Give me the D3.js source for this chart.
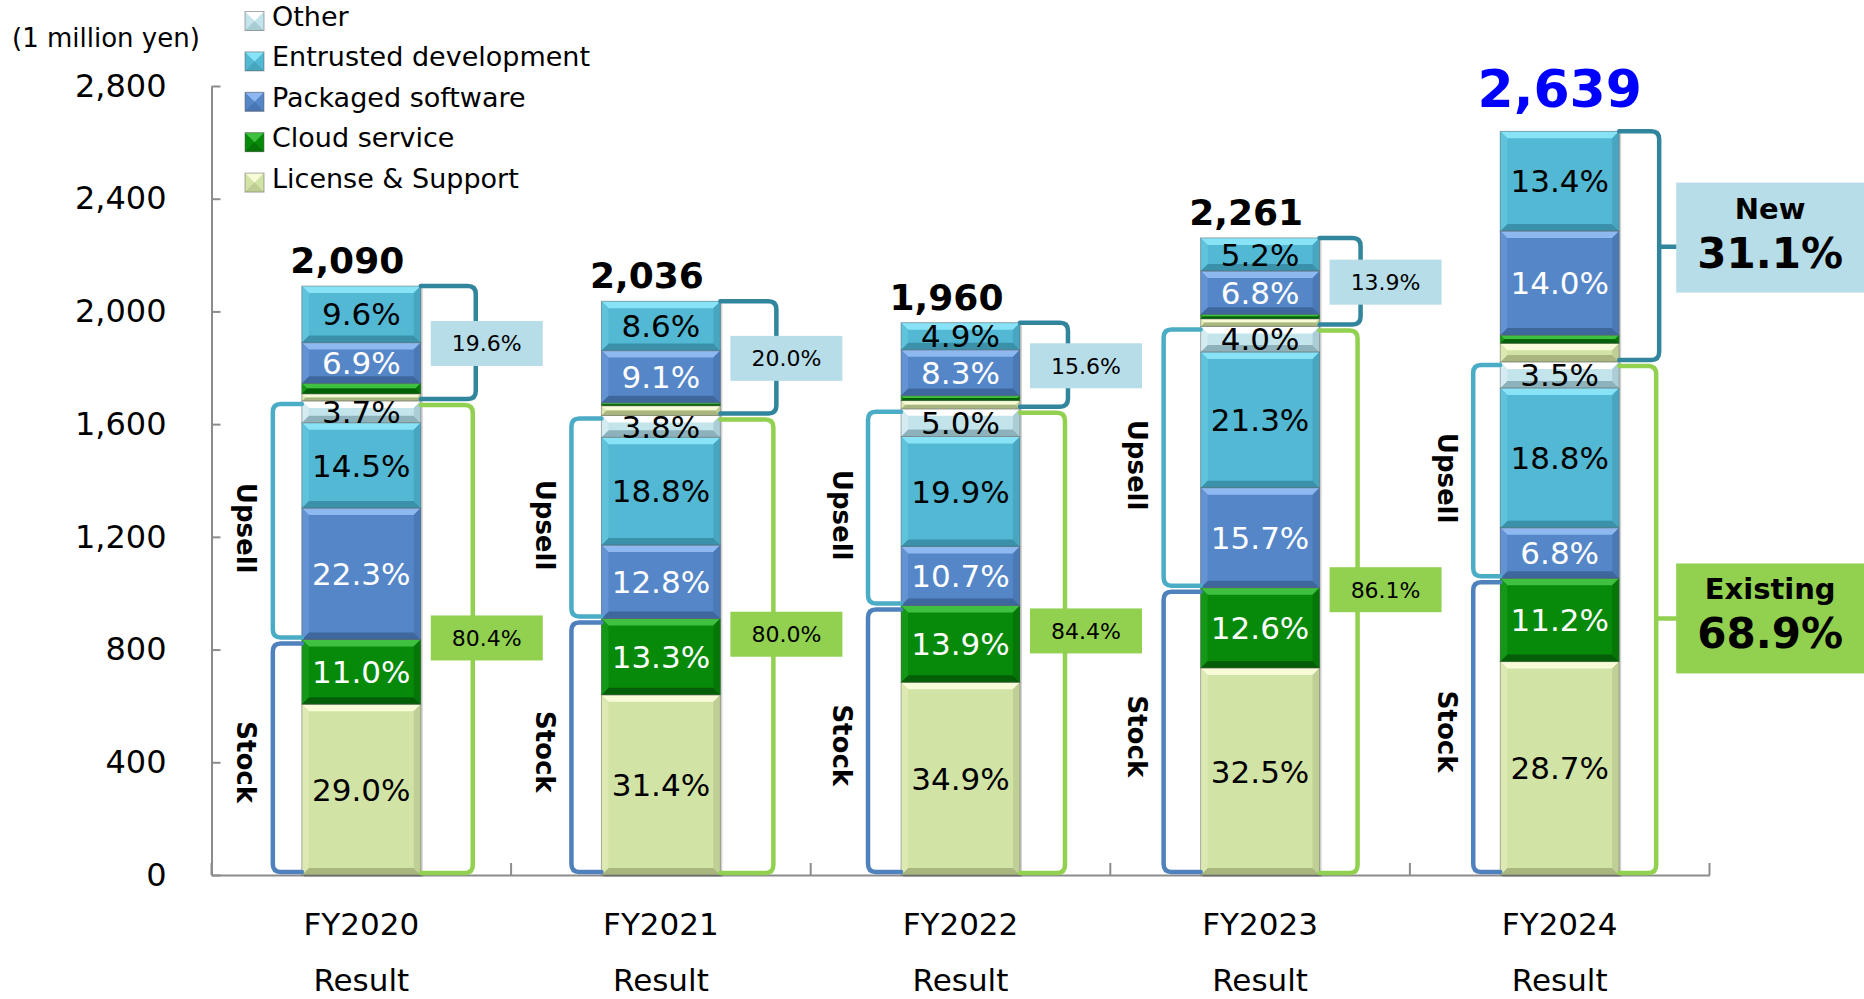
<!DOCTYPE html>
<html><head><meta charset="utf-8">
<script src="https://cdn.jsdelivr.net/npm/d3@7"></script>
<style>
html,body{margin:0;padding:0;background:#fff;}
svg{display:block;font-family:"DejaVu Sans",Verdana,sans-serif;}
</style></head><body>
<svg id="chart" width="1864" height="999"></svg>
<script>
// ---------------- data ----------------
const years = ["FY2020","FY2021","FY2022","FY2023","FY2024"];
const subLabel = "Result";
const totals = [2090, 2036, 1960, 2261, 2639];
// share of total (%) of each stacked segment, bottom to top
const stockLicense    = [29.0, 31.4, 34.9, 32.5, 28.7];
const stockCloud      = [11.0, 13.3, 13.9, 12.6, 11.2];
const upsellPackaged  = [22.3, 12.8, 10.7, 15.7, 6.8];
const upsellEntrusted = [14.5, 18.8, 19.9, 21.3, 18.8];
const upsellOther     = [3.7, 3.8, 5.0, 4.0, 3.5];
const newLicense      = [1.2, 1.7, 1.5, 1.2, 2.5];
const newCloud        = [1.8, 0.5, 0.9, 0.7, 1.1];
const newPackaged     = [6.9, 9.1, 8.3, 6.8, 14.0];
const newEntrusted    = [9.6, 8.6, 4.9, 5.2, 13.4];
const newShare        = ["19.6%","20.0%","15.6%","13.9%","31.1%"];
const existingShare   = ["80.4%","80.0%","84.4%","86.1%","68.9%"];
const yTicks = [0,400,800,1200,1600,2000,2400,2800];
const legendItems = ["Other","Entrusted development","Packaged software","Cloud service","License & Support"];
const legendTypes = ["other","entrusted","packaged","cloud","license"];
const unitLabel = "(1 million yen)";
const groupLabels = {stock:"Stock", upsell:"Upsell", newT:"New", existing:"Existing"};
const highlightIndex = 4;

// ---------------- styles / layout ----------------
const palette = {
  license:   {base:"#d2e3a6", hi:"#f8fbd8", lo:"#a9b680", text:"#000"},
  cloud:     {base:"#078a0a", hi:"#40c040", lo:"#045e07", text:"#fff"},
  packaged:  {base:"#5587c8", hi:"#8db8f0", lo:"#3e679e", text:"#fff"},
  entrusted: {base:"#52b8d3", hi:"#88e3f7", lo:"#3b91a9", text:"#000"},
  other:     {base:"#c4e4ec", hi:"#ffffff", lo:"#8db2bc", text:"#000"}
};
const segments = [
  {key:"stockLicense",    vals:stockLicense,    type:"license",   label:true},
  {key:"stockCloud",      vals:stockCloud,      type:"cloud",     label:true},
  {key:"upsellPackaged",  vals:upsellPackaged,  type:"packaged",  label:true},
  {key:"upsellEntrusted", vals:upsellEntrusted, type:"entrusted", label:true},
  {key:"upsellOther",     vals:upsellOther,     type:"other",     label:true},
  {key:"newLicense",      vals:newLicense,      type:"license",   label:false},
  {key:"newCloud",        vals:newCloud,        type:"cloud",     label:false},
  {key:"newPackaged",     vals:newPackaged,     type:"packaged",  label:true},
  {key:"newEntrusted",    vals:newEntrusted,    type:"entrusted", label:true}
];
const bracketColors = {stock:"#4f81bd", upsell:"#4bacc6", newT:"#31859c", existing:"#92d050"};
const boxColors = {newT:"#b7dde8", existing:"#92d050"};
const leftGap  = [29,30,33,37,27];
const rightGap = [55,56,48,41,40];
const exBoxShift = [0,-11,-11,-11,0];

const svg = d3.select("#chart");
const x = d3.scaleBand().domain(years).range([211.5,1709.5]).paddingInner(0).paddingOuter(0);
const y = d3.scaleLinear().domain([0,2800]).range([875,86]);
const barW = x.bandwidth()*0.397;
const barX = d => x(d) + (x.bandwidth()-barW)/2;

const rows = years.map((yr,i)=>{
  const r = {year:yr, i:i, total:totals[i]};
  segments.forEach(s=>{ r[s.key] = s.vals[i]*totals[i]/100; });
  return r;
});
const series = d3.stack().keys(segments.map(s=>s.key))(rows);

// ---------------- axes ----------------
const gy = svg.append("g").attr("transform",`translate(${x.range()[0]},0)`)
  .call(d3.axisLeft(y).tickValues(yTicks).tickFormat(d3.format(",")).tickSize(-9).tickSizeOuter(0).tickPadding(45));
gy.select(".domain").attr("stroke","#8c8c8c").attr("stroke-width",2);
gy.selectAll(".tick line").attr("stroke","#8c8c8c").attr("stroke-width",2);
gy.selectAll(".tick text").attr("font-size",32).attr("fill","#000").attr("font-family","DejaVu Sans");

const gx = svg.append("g").attr("transform",`translate(0,${y(0)})`)
  .call(d3.axisBottom(x).tickSize(0).tickSizeOuter(0).tickPadding(0));
gx.select(".domain").attr("stroke","#8c8c8c").attr("stroke-width",2);
gx.selectAll(".tick text").remove();
const bounds = years.map(d=>x(d)).concat([x.range()[1]]);
gx.selectAll("line.bnd").data(bounds).join("line").attr("class","bnd")
  .attr("x1",d=>d).attr("x2",d=>d).attr("y1",0).attr("y2",-12)
  .attr("stroke","#8c8c8c").attr("stroke-width",2);
const xl = svg.append("g");
xl.selectAll("text.fy").data(years).join("text").attr("class","fy")
  .attr("x",d=>x(d)+x.bandwidth()/2).attr("y",935).attr("text-anchor","middle")
  .attr("font-size",31).text(d=>d);
xl.selectAll("text.res").data(years).join("text").attr("class","res")
  .attr("x",d=>x(d)+x.bandwidth()/2).attr("y",991).attr("text-anchor","middle")
  .attr("font-size",31).text(subLabel);

// ---------------- bars ----------------
const mix = (a,b,t)=>d3.interpolateRgb(a,b)(t);
function bevelSeg(g, x0, y0, w, h, c){
  const x1=x0+w, y1=y0+h, b=Math.min(7,h/2);
  g.append("rect").attr("x",x0).attr("y",y0).attr("width",w).attr("height",h).attr("fill",c.base);
  g.append("polygon").attr("points",[[x0,y0],[x1,y0],[x1-b,y0+b],[x0+b,y0+b]].join(" ")).attr("fill",c.hi);
  g.append("polygon").attr("points",[[x0,y1],[x1,y1],[x1-b,y1-b],[x0+b,y1-b]].join(" ")).attr("fill",c.lo);
  g.append("polygon").attr("points",[[x0,y0],[x0+b,y0+b],[x0+b,y1-b],[x0,y1]].join(" ")).attr("fill",mix(c.base,c.hi,0.25));
  g.append("polygon").attr("points",[[x1,y0],[x1-b,y0+b],[x1-b,y1-b],[x1,y1]].join(" ")).attr("fill",mix(c.base,c.lo,0.45));
  g.append("rect").attr("x",x0).attr("y",y0).attr("width",w).attr("height",h)
    .attr("fill","none").attr("stroke","rgba(90,90,90,0.45)").attr("stroke-width",1);
}
const barsG = svg.append("g");
barsG.selectAll("rect.shadow").data(rows).join("rect").attr("class","shadow")
  .attr("x",d=>barX(d.year)+2).attr("y",d=>y(d.total)+2).attr("width",barW).attr("height",d=>y(0)-y(d.total))
  .attr("fill","rgba(0,0,0,0.18)");
series.forEach((s,si)=>{
  const seg = segments[si];
  s.forEach((p,i)=>{
    const g = barsG.append("g");
    const y0 = y(p[1]), y1 = y(p[0]);
    bevelSeg(g, barX(years[i]), y0, barW, y1-y0, palette[seg.type]);
  });
});
series.forEach((s,si)=>{
  const seg = segments[si];
  if(!seg.label) return;
  barsG.selectAll(null).data(s).join("text")
    .attr("x",(p,i)=>barX(years[i])+barW/2)
    .attr("y",p=>(y(p[0])+y(p[1]))/2)
    .attr("dy","0.36em").attr("text-anchor","middle").attr("font-size",31)
    .attr("fill",palette[seg.type].text)
    .text((p,i)=>seg.vals[i].toFixed(1)+"%");
});

// totals
svg.append("g").selectAll("text").data(rows).join("text")
  .attr("x",d=>barX(d.year)+barW/2 + (d.i===highlightIndex?0:-14))
  .attr("y",d=>y(d.total) - (d.i===highlightIndex?24:13))
  .attr("text-anchor","middle").attr("font-weight","bold")
  .attr("font-size",d=>d.i===highlightIndex?52:36)
  .attr("fill",d=>d.i===highlightIndex?"#0000ff":"#000")
  .text(d=>d3.format(",")(d.total));

// ---------------- brackets ----------------
const r = 8;
function leftBracket(xr, xv, yt, yb){
  return `M${xr},${yt}H${xv+r}Q${xv},${yt} ${xv},${yt+r}V${yb-r}Q${xv},${yb} ${xv+r},${yb}H${xr}`;
}
function rightBracket(xl, xv, yt, yb){
  return `M${xl},${yt}H${xv-r}Q${xv},${yt} ${xv},${yt+r}V${yb-r}Q${xv},${yb} ${xv-r},${yb}H${xl}`;
}
const brG = svg.append("g").attr("fill","none").attr("stroke-width",4.5).attr("stroke-linecap","round");
const labG = svg.append("g");
rows.forEach((d,i)=>{
  const L = barX(d.year), R = L+barW;
  const stockTop = series[1][i][1], existTop = series[4][i][1], top = series[8][i][1];
  const xv = L - leftGap[i], xr = R + rightGap[i];
  brG.append("path").attr("stroke",bracketColors.stock)
    .attr("d",leftBracket(L, xv, y(stockTop)+4, y(0)-3));
  brG.append("path").attr("stroke",bracketColors.upsell)
    .attr("d",leftBracket(L, xv, y(existTop)+3, y(stockTop)-2));
  brG.append("path").attr("stroke",bracketColors.newT)
    .attr("d",rightBracket(R, xr, y(top), y(existTop)-2));
  brG.append("path").attr("stroke",bracketColors.existing)
    .attr("d",rightBracket(R, xr-3, y(existTop)+4, y(0)-2));
  [[groupLabels.stock,(y(stockTop)+y(0))/2+5],[groupLabels.upsell,(y(existTop)+y(stockTop))/2+8]].forEach(([t,my])=>{
    labG.append("text").attr("transform",`translate(${xv-26},${my}) rotate(90)`)
      .attr("text-anchor","middle").attr("dy","0.36em").attr("font-weight","bold").attr("font-size",26).text(t);
  });
  const newMid = (y(top)+y(existTop))/2, exMid = (y(existTop)+y(0))/2 + exBoxShift[i];
  if(i!==highlightIndex){
    const bw=112, bh=45, bxl=R+10;
    labG.append("rect").attr("x",bxl).attr("y",newMid-bh/2).attr("width",bw).attr("height",bh).attr("fill",boxColors.newT);
    labG.append("text").attr("x",bxl+bw/2).attr("y",newMid).attr("dy","0.36em").attr("text-anchor","middle")
      .attr("font-size",22).text(newShare[i]);
    labG.append("rect").attr("x",bxl).attr("y",exMid-bh/2).attr("width",bw).attr("height",bh).attr("fill",boxColors.existing);
    labG.append("text").attr("x",bxl+bw/2).attr("y",exMid).attr("dy","0.36em").attr("text-anchor","middle")
      .attr("font-size",22).text(existingShare[i]);
  } else {
    const bw=188, bh=110, bxl=R+57;
    [[newMid,-9,boxColors.newT,bracketColors.newT,groupLabels.newT,newShare[i],xr],
     [exMid,0,boxColors.existing,bracketColors.existing,groupLabels.existing,existingShare[i],xr-3]].forEach(([my,off,fill,stroke,t1,t2,xs])=>{
      brG.append("line").attr("x1",xs).attr("x2",bxl).attr("y1",my).attr("y2",my).attr("stroke",stroke);
      const by = my+off-bh/2;
      labG.append("rect").attr("x",bxl).attr("y",by).attr("width",bw).attr("height",bh).attr("fill",fill);
      labG.append("text").attr("x",bxl+bw/2).attr("y",by+36).attr("text-anchor","middle")
        .attr("font-weight","bold").attr("font-size",29).text(t1);
      labG.append("text").attr("x",bxl+bw/2).attr("y",by+85).attr("text-anchor","middle")
        .attr("font-weight","bold").attr("font-size",42).text(t2);
    });
  }
});

// ---------------- legend & unit ----------------
svg.append("text").attr("x",12).attr("y",47).attr("font-size",26).text(unitLabel);
const lg = svg.append("g");
legendItems.forEach((t,i)=>{
  const yc = 21 + i*40.4, s = 19, x0 = 245, y0 = yc - s/2;
  const c = palette[legendTypes[i]];
  lg.append("rect").attr("x",x0).attr("y",y0).attr("width",s).attr("height",s).attr("fill",c.base);
  lg.append("polygon").attr("points",[[x0,y0],[x0+s,y0],[x0+s/2,y0+s/2]].join(" ")).attr("fill",c.hi);
  lg.append("polygon").attr("points",[[x0,y0+s],[x0+s,y0+s],[x0+s/2,y0+s/2]].join(" ")).attr("fill",mix(c.base,c.lo,0.5));
  lg.append("rect").attr("x",x0).attr("y",y0).attr("width",s).attr("height",s).attr("fill","none")
    .attr("stroke","rgba(90,90,90,0.5)").attr("stroke-width",1);
  lg.append("text").attr("x",272).attr("y",yc+5).attr("font-size",27).text(t);
});
</script>
</body></html>
